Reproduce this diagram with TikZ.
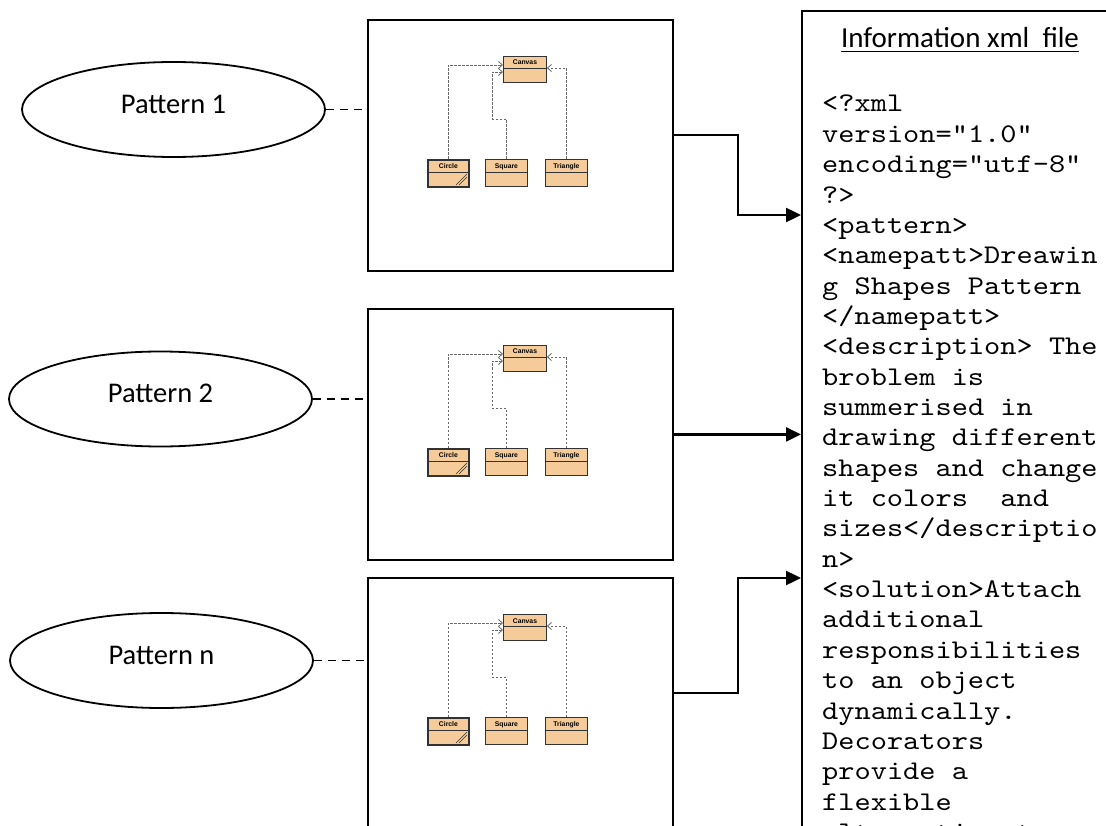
\documentclass[tikz,border=0pt]{standalone}
\usepackage{fontspec}
\usetikzlibrary{arrows.meta,shapes.geometric}
\newfontfamily\calibri{Carlito}
\newfontfamily\xmlmono[FakeStretch=1.143]{lmmono10-regular.otf}
\newfontfamily\umlsans{Liberation Sans}
\definecolor{clsfill}{RGB}{245,204,153}
\definecolor{clsline}{RGB}{50,50,50}
\definecolor{deplink}{RGB}{105,105,105}

\tikzset{
  patt/.style={ellipse, draw, line width=1.8pt, minimum width=303pt,
    minimum height=95pt, inner sep=0pt, text depth=11pt,
    font=\calibri\fontsize{28.5}{34}\selectfont},
  bigbox/.style={draw, line width=1.8pt, anchor=north west,
    minimum width=305pt, inner sep=0pt},
  infobox/.style={draw, line width=1.8pt, anchor=north west,
    minimum width=340pt, minimum height=840pt, inner sep=0pt},
  link/.style={line width=1.8pt, dash pattern=on 8pt off 6pt},
  feed/.style={line width=2.4pt, -{Triangle[length=15pt,width=14pt]}},
  xmlline/.style={anchor=base west, inner sep=0pt,
    font=\xmlmono\fontsize{27}{30}\selectfont},
  cls/.style={draw=clsline, fill=clsfill, line width=0.9pt, anchor=north west,
    minimum height=27pt, inner sep=0pt},
  clsdiv/.style={draw=clsline, line width=0.8pt},
  clsname/.style={inner sep=0pt, text height=5pt, text depth=0pt,
    font=\umlsans\bfseries\fontsize{6.8}{8}\selectfont},
  dep/.style={draw=deplink, line width=0.8pt, dash pattern=on 2.5pt off 1.5pt,
    -{Straight Barb[length=4pt,width=7pt]}},
  classdiag/.pic={
    % classes
    \node[cls, minimum width=43pt, minimum height=26pt] (-canvas) at (136,37) {};
    \node[cls, minimum width=41pt, line width=1.8pt] (-circle) at (60,140) {};
    \node[cls, minimum width=42pt] (-square) at (118,140) {};
    \node[cls, minimum width=42pt] (-triangle) at (178,140) {};
    % compartment dividers
    \draw[clsdiv] ([yshift=-12pt]-canvas.north west) -- ([yshift=-12pt]-canvas.north east);
    \draw[clsdiv] ([yshift=-13pt]-circle.north west) -- ([yshift=-13pt]-circle.north east);
    \draw[clsdiv] ([yshift=-13pt]-square.north west) -- ([yshift=-13pt]-square.north east);
    \draw[clsdiv] ([yshift=-13pt]-triangle.north west) -- ([yshift=-13pt]-triangle.north east);
    % class names
    \node[clsname] (-canvasname) at ([yshift=-6.5pt]-canvas.north) {Canvas};
    \node[clsname] (-circlename) at ([yshift=-7pt]-circle.north) {Circle};
    \node[clsname] (-squarename) at ([yshift=-7pt]-square.north) {Square};
    \node[clsname] (-trianglename) at ([yshift=-7pt]-triangle.north) {Triangle};
    % corner mark of Circle
    \draw[clsline, line width=0.6pt] (89,166) -- (100,155);
    \draw[clsline, line width=0.6pt] (92,166) -- (100,158);
    % dependencies
    \draw[dep] (-circle.north) |- ([yshift=-9pt]-canvas.north west);
    \draw[dep] (-square.north) |- ++(-14,-40) |- ([yshift=-16pt]-canvas.north west);
    \draw[dep] (-triangle.north) |- ([yshift=-12pt]-canvas.north east);
  }
}

\begin{document}
\begin{tikzpicture}[x=1pt,y=-1pt]
\useasboundingbox (0,0) rectangle (1106,826);
\clip (0,0) rectangle (1106,826);

% pattern ellipses
\node[patt] (p1) at (173.5,109.5) {Pattern 1};
\node[patt] (p2) at (160.5,399) {Pattern 2};
\node[patt] (p3) at (161.5,660.5) {Pattern n};

% pattern diagrams
\node[bigbox, minimum height=251pt] (b1) at (367,19) {};
\node[bigbox, minimum height=251pt] (b2) at (367,308) {};
\node[bigbox, minimum height=270pt] (b3) at (367,577) {};
\pic (u1) at (b1.north west) {classdiag};
\pic (u2) at (b2.north west) {classdiag};
\pic (u3) at (b3.north west) {classdiag};

% ellipse to diagram links
\draw[link] (p1.east) -- (p1.east -| b1.west);
\draw[link] (p2.east) -- (p2.east -| b2.west);
\draw[link] (p3.east) -- (p3.east -| b3.west);

% information file
\node[infobox] (info) at (801,10.5) {};
\node[inner sep=0pt, anchor=base, font=\calibri\fontsize{29}{34}\selectfont]
  (title) at (960,48) {Information xml\ \ file};
\draw[line width=1.6pt] ([yshift=-3.5pt]title.base west) -- ([yshift=-3.5pt]title.base east);

\foreach \ln [count=\i] in {
  {<?xml},
  {version="1.0"},
  {encoding="utf-8"},
  {?>},
  {<pattern>},
  {<namepatt>Dreawin},
  {g Shapes Pattern},
  {</namepatt>},
  {<description> The},
  {broblem is},
  {summerised in},
  {drawing different},
  {shapes and change},
  {it colors\ \ and},
  {sizes</descriptio},
  {n>},
  {<solution>Attach},
  {additional},
  {responsibilities},
  {to an object},
  {dynamically.},
  {Decorators},
  {provide a},
  {flexible},
  {alternative to}}
  \node[xmlline] (xml\i) at (822,{112+30.35*(\i-1)}) {\ln};

% diagram to file arrows
\coordinate (in1) at (801,215);
\coordinate (in3) at (801,578);
\draw[feed] ([yshift=10.5pt]b1.east) -- ++(64,0) |- (in1);
\draw[feed] (b2.east) -- (b2.east -| info.west);
\draw[feed] ([yshift=-116pt]b3.north east) -- ++(64,0) |- (in3);
\end{tikzpicture}
\end{document}
